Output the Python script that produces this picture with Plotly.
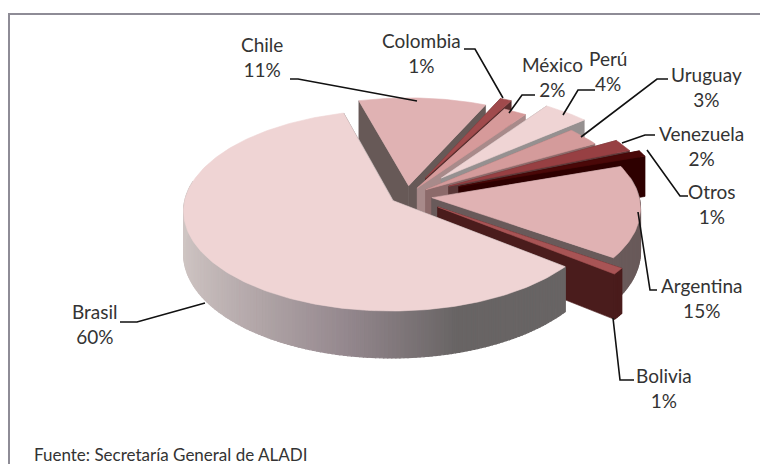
import numpy as np
import plotly.graph_objects as go

# ---- data ----
paises = ["Argentina", "Bolivia", "Brasil", "Chile", "Colombia", "México", "Perú", "Uruguay", "Venezuela", "Otros"]
valores = [15, 1, 60, 11, 1, 2, 4, 3, 2, 1]

# ---- styles and layout ----
top_col = ["#E0B2B3", "#A85455", "#EFD4D4", "#E0B2B3", "#A04A4C", "#D69A9A", "#EFD4D4", "#D49B9B", "#974043", "#4A0808"]
wall_col = ["#695A5A", "#4A1C1C", "#6A6666", "#675957", "#5A2E2E", "#A88A8A", "#959090", "#8C6A6A", "#5A3838", "#2E0000"]
pull = [25, 38, 17, 22, 43, 20, 52, 23, 47, 56]
draw_order = [3, 4, 5, 6, 7, 8, 9, 0, 1, 2]  # back to front
CX, CY = 407, 196
R, K, P, H = 207, 0.476, 0.10, 42
START = 71

fig = go.Figure()


def proj(x, y, z=0.0):
    s = 1 / (1 + P * y / R)
    return CX + x * s, CY - K * y * s + z * s


def poly(xs, ys, col, w=0.6):
    fig.add_trace(go.Scatter(x=xs, y=ys, mode="lines", fill="toself", fillcolor=col,
                             line=dict(color=col, width=w), hoverinfo="skip", showlegend=False))


def mix(a, b, t):
    return "rgb(%d,%d,%d)" % tuple(a[i] + (b[i] - a[i]) * t for i in range(3))


tot = sum(valores)
ang = START
slices = []
for v, tc, wc, e in zip(valores, top_col, wall_col, pull):
    span = 360 * v / tot
    slices.append((ang, ang + span, tc, wc, e))
    ang += span

for a0, a1, tc, wc, e in (slices[i] for i in draw_order):
    mid = np.radians((a0 + a1) / 2)
    ox, oy = e * np.sin(mid), e * np.cos(mid)
    th = np.radians(np.linspace(a0, a1, max(4, int(a1 - a0))))
    wx, wy = ox + R * np.sin(th), oy + R * np.cos(th)
    tx, ty = proj(wx, wy)
    bx, by = proj(wx, wy, H)
    ax0, ay0 = proj(ox, oy)
    ax1, ay1 = proj(ox, oy, H)
    # radial faces, farther one first
    faces = [(tx[0], ty[0], bx[0], by[0], wy[0]), (tx[-1], ty[-1], bx[-1], by[-1], wy[-1])]
    faces.sort(key=lambda f: -f[4])
    for f in faces:
        poly([ax0, f[0], f[2], ax1, ax0], [ay0, f[1], f[3], ay1, ay0], wc)
    # outer wall: shaded strips
    for i in range(len(th) - 1):
        if np.cos((th[i] + th[i + 1]) / 2) > 0.2:
            continue
        if (a1 - a0) > 100:
            t = np.clip((np.sin(th[i]) + 1) / 2, 0, 1)  # left -> right
            col = mix((208, 198, 196), (150, 137, 143), t / 0.4) if t < .4 else mix((150, 137, 143), (104, 100, 100), min(1, (t - .4) / .25))
        else:
            col = wc
        poly([tx[i], tx[i + 1], bx[i + 1], bx[i], tx[i]], [ty[i], ty[i + 1], by[i + 1], by[i], ty[i]], col, 1.2)
    poly([ax0, *tx, ax0], [ay0, *ty, ay0], tc)

# frame
fig.add_trace(go.Scatter(x=[9, 9, 760], y=[464, 14, 14], mode="lines",
                         line=dict(color="#8E8C96", width=2), hoverinfo="skip", showlegend=False))

# leader lines
leaders = [
    ([638, 650, 657], [212, 290, 290]),      # Argentina
    ([613, 620, 634], [318, 380, 380]),      # Bolivia
    ([120, 137, 205], [322, 322, 303]),      # Brasil
    ([290, 298, 417], [79, 79, 101]),        # Chile
    ([464, 475, 503], [49, 49, 98]),         # Colombia
    ([509, 522, 535], [113, 95, 95]),        # México
    ([563, 578, 595], [115, 90, 90]),        # Perú
    ([581, 657, 668], [137, 79, 79]),        # Uruguay
    ([622, 645, 655], [143, 135, 135]),      # Venezuela
    ([647, 680, 688], [150, 196, 196]),      # Otros
]
for lx, ly in leaders:
    fig.add_trace(go.Scatter(x=lx, y=ly, mode="lines", line=dict(color="#111111", width=1.6),
                             hoverinfo="skip", showlegend=False))

label_pos = {
    "Argentina": (702, 298), "Bolivia": (664, 388), "Brasil": (95, 324), "Chile": (262, 57),
    "Colombia": (421, 53), "México": (552, 77), "Perú": (608, 71), "Uruguay": (706, 87),
    "Venezuela": (701, 146), "Otros": (712, 204),
}
ann = []
for n, v in zip(paises, valores):
    x, y = label_pos[n]
    ann.append(dict(x=x, y=y, xref="x", yref="y", text=f"{n}<br>{v}%", showarrow=False,
                    font=dict(family="Lato", size=19, color="#333333"), align="center",
                    xanchor="center", yanchor="middle"))
ann.append(dict(x=32, y=454, xref="x", yref="y", text="Fuente: Secretaría General de ALADI", showarrow=False,
                font=dict(family="Lato", size=17, color="#333333"), xanchor="left", yanchor="middle"))

fig.update_layout(
    width=760, height=464, margin=dict(l=0, r=0, t=0, b=0),
    paper_bgcolor="white", plot_bgcolor="white", showlegend=False, annotations=ann,
    xaxis=dict(range=[0, 760], visible=False, fixedrange=True),
    yaxis=dict(range=[464, 0], visible=False, fixedrange=True),
)
fig.write_html("out.html", config={"displayModeBar": False},
               post_script="document.body.style.margin='0';document.body.style.overflow='hidden';")
